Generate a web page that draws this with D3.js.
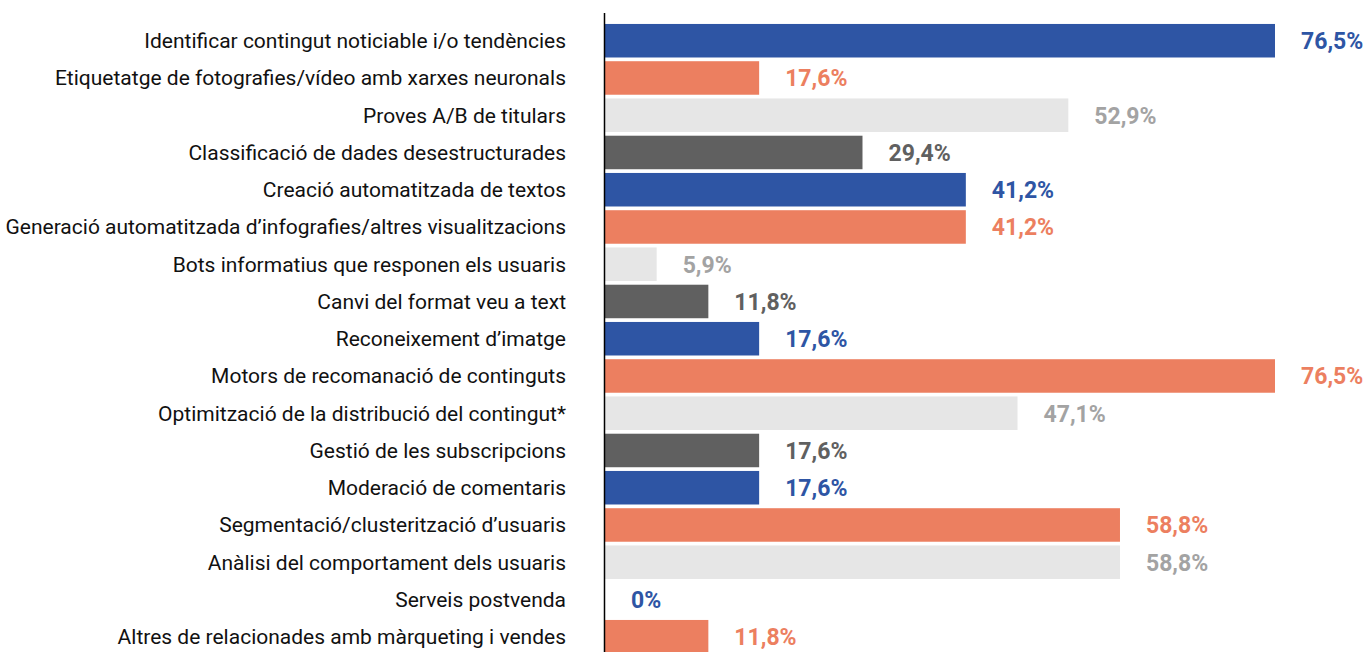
<!DOCTYPE html>
<html>
<head>
<meta charset="utf-8">
<script src="https://cdn.jsdelivr.net/npm/d3@7"></script>
<style>
  body { margin: 0; background: #fff; }
  svg { display: block; }
</style>
</head>
<body>
<div id="chart"></div>
<script>
// chart data
var categories = [
  "Identificar contingut noticiable i/o tendències",
  "Etiquetatge de fotografies/vídeo amb xarxes neuronals",
  "Proves A/B de titulars",
  "Classificació de dades desestructurades",
  "Creació automatitzada de textos",
  "Generació automatitzada d’infografies/altres visualitzacions",
  "Bots informatius que responen els usuaris",
  "Canvi del format veu a text",
  "Reconeixement d’imatge",
  "Motors de recomanació de continguts",
  "Optimització de la distribució del contingut*",
  "Gestió de les subscripcions",
  "Moderació de comentaris",
  "Segmentació/clusterització d’usuaris",
  "Anàlisi del comportament dels usuaris",
  "Serveis postvenda",
  "Altres de relacionades amb màrqueting i vendes"
];
var values = [76.5, 17.6, 52.9, 29.4, 41.2, 41.2, 5.9, 11.8, 17.6, 76.5, 47.1, 17.6, 17.6, 58.8, 58.8, 0, 11.8];
var groups = ["blue", "orange", "light", "dark", "blue", "orange", "light", "dark", "blue",
              "orange", "light", "dark", "blue", "orange", "light", "blue", "orange"];

// colours
var barColor = {blue: "#2e55a4", orange: "#ec7f60", light: "#e6e6e6", dark: "#606060"};
var textColor = {blue: "#2e55a4", orange: "#ec7f60", light: "#a3a3a3", dark: "#606060"};

var w = 1368, h = 652;
var axisX = 604.5;

var svg = d3.select("#chart")
  .append("svg")
    .attr("width", w)
    .attr("height", h);

var x = d3.scaleLinear()
    .domain([0, 76.5])
    .range([605, 1275]);

var y = d3.scaleBand()
    .domain(categories)
    .range([22.1, 22.1 + 17 * 37.25])
    .paddingInner(0.1)
    .paddingOuter(0.05);

var fmt = function(v) { return (v === 0 ? "0" : v.toFixed(1).replace(".", ",")) + "%"; };

var rows = categories.map(function(c, i) { return {cat: c, val: values[i], grp: groups[i]}; });

// bars
svg.append("g")
  .selectAll("rect")
  .data(rows)
  .enter()
  .append("rect")
    .attr("x", x(0))
    .attr("y", function(d) { return y(d.cat); })
    .attr("width", function(d) { return x(d.val) - x(0); })
    .attr("height", y.bandwidth())
    .attr("fill", function(d) { return barColor[d.grp]; });

// category labels
svg.append("g")
  .selectAll("text")
  .data(rows)
  .enter()
  .append("text")
    .attr("x", 566)
    .attr("y", function(d) { return y(d.cat) + y.bandwidth() / 2; })
    .attr("dy", "0.35em")
    .attr("text-anchor", "end")
    .style("font-family", "Roboto, sans-serif")
    .style("font-size", "21px")
    .style("fill", "#111")
    .text(function(d) { return d.cat; });

// value labels
svg.append("g")
  .selectAll("text")
  .data(rows)
  .enter()
  .append("text")
    .attr("x", function(d) { return x(d.val) + 26; })
    .attr("y", function(d) { return y(d.cat) + y.bandwidth() / 2; })
    .attr("dy", "0.36em")
    .style("font-family", "Roboto, sans-serif")
    .style("font-weight", "bold")
    .style("font-size", "23px")
    .style("fill", function(d) { return textColor[d.grp]; })
    .text(function(d) { return fmt(d.val); });

// vertical axis line
svg.append("line")
    .attr("x1", axisX).attr("x2", axisX)
    .attr("y1", 13).attr("y2", h)
    .style("stroke", "#000")
    .style("stroke-width", 1.5);
</script>
</body>
</html>
